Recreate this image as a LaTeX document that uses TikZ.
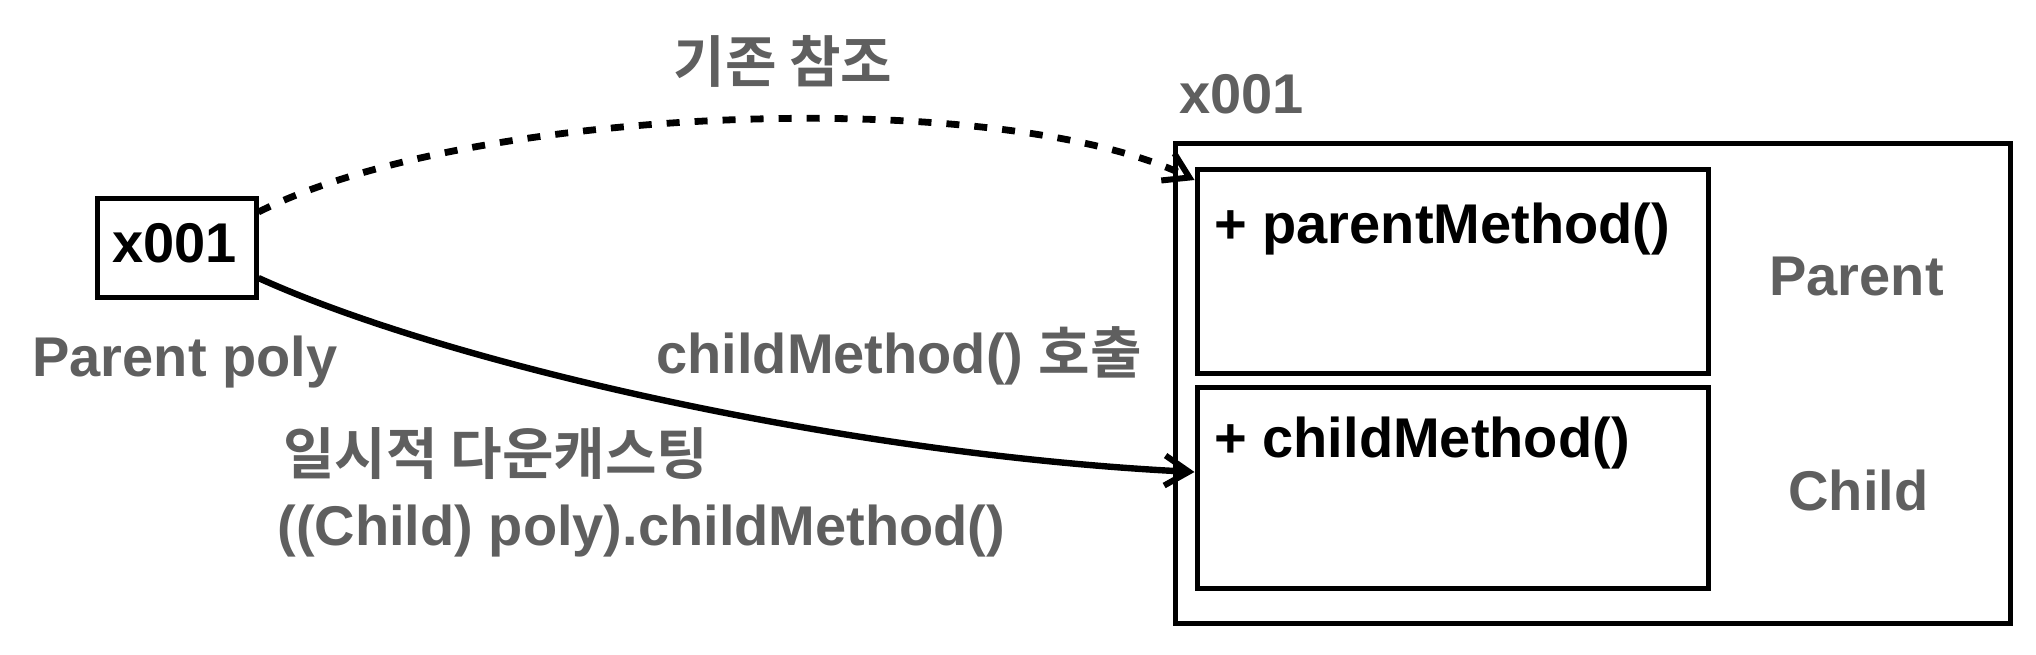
\documentclass[tikz,border=0pt]{standalone}
\usepackage{fontspec}
\setmainfont{Liberation Sans}
\newfontfamily\krfont{Noto Sans CJK KR}[BoldFont={* Bold}]
\usetikzlibrary{arrows.meta}
\definecolor{txtgray}{RGB}{95,95,95}
\tikzset{
  box/.style={draw=black, line width=2.5pt, inner sep=0pt},
  lbl/.style={inner sep=0pt, font=\fontsize{28}{34}\selectfont\bfseries},
  glbl/.style={lbl, text=txtgray},
  conn/.style={line width=3.2pt, -{Straight Barb[length=12pt,width=15pt,line width=3pt]}},
  ref/.style={conn, dash pattern=on 6.5pt off 7.5pt, line width=3.4pt},
}
\newcommand{\kr}[1]{{\krfont\fontsize{28}{34}\selectfont\bfseries #1}}
\begin{document}
\begin{tikzpicture}[x=0.5pt,y=-0.5pt]
\useasboundingbox (0,0) rectangle (2036,654);
% reference box
\node[box, minimum width=79.5pt, minimum height=49.5pt] (xbox) at (176.5,247.5) {};
\node[lbl, anchor=base west] (xval) at (112,262) {x001};
\node[glbl, anchor=base west] (pp) at (32,376) {Parent poly};
% instance
\node[glbl, anchor=base west] (addr) at (1179,113) {x001};
\node[box, minimum width=417.5pt, minimum height=240pt] (outer) at (1592.5,383) {};
\node[box, minimum width=255.5pt, minimum height=102pt] (pbox) at (1452.5,271) {};
\node[box, minimum width=255.5pt, minimum height=100.5pt] (cbox) at (1452.5,487.5) {};
\node[lbl, anchor=base west] (pm) at (1214,243) {+ parentMethod()};
\node[lbl, anchor=base west] (cm) at (1214,457) {+ childMethod()};
\node[glbl, anchor=base west] (pl) at (1769,295) {Parent};
\node[glbl, anchor=base west] (cl) at (1788,510) {Child};
% labels
\node[glbl, anchor=base] (orig) at (783,82) {\kr{기존 참조}};
\node[glbl, anchor=base west] (call) at (656,373) {childMethod() \kr{호출}};
\node[glbl, anchor=base west] (down) at (283,474) {\kr{일시적 다운캐스팅}};
\node[glbl, anchor=base west] (expr) at (277,545) {((Child) poly).childMethod()};
% connectors
\draw[ref] ([yshift=17.75pt]xbox.east) .. controls (470,105) and (1000,85) .. ([yshift=45.5pt]pbox.west);
\draw[conn] ([yshift=-15.25pt]xbox.east) .. controls (450,365) and (850,455) .. ([yshift=7.75pt]cbox.west);
\end{tikzpicture}
\end{document}
